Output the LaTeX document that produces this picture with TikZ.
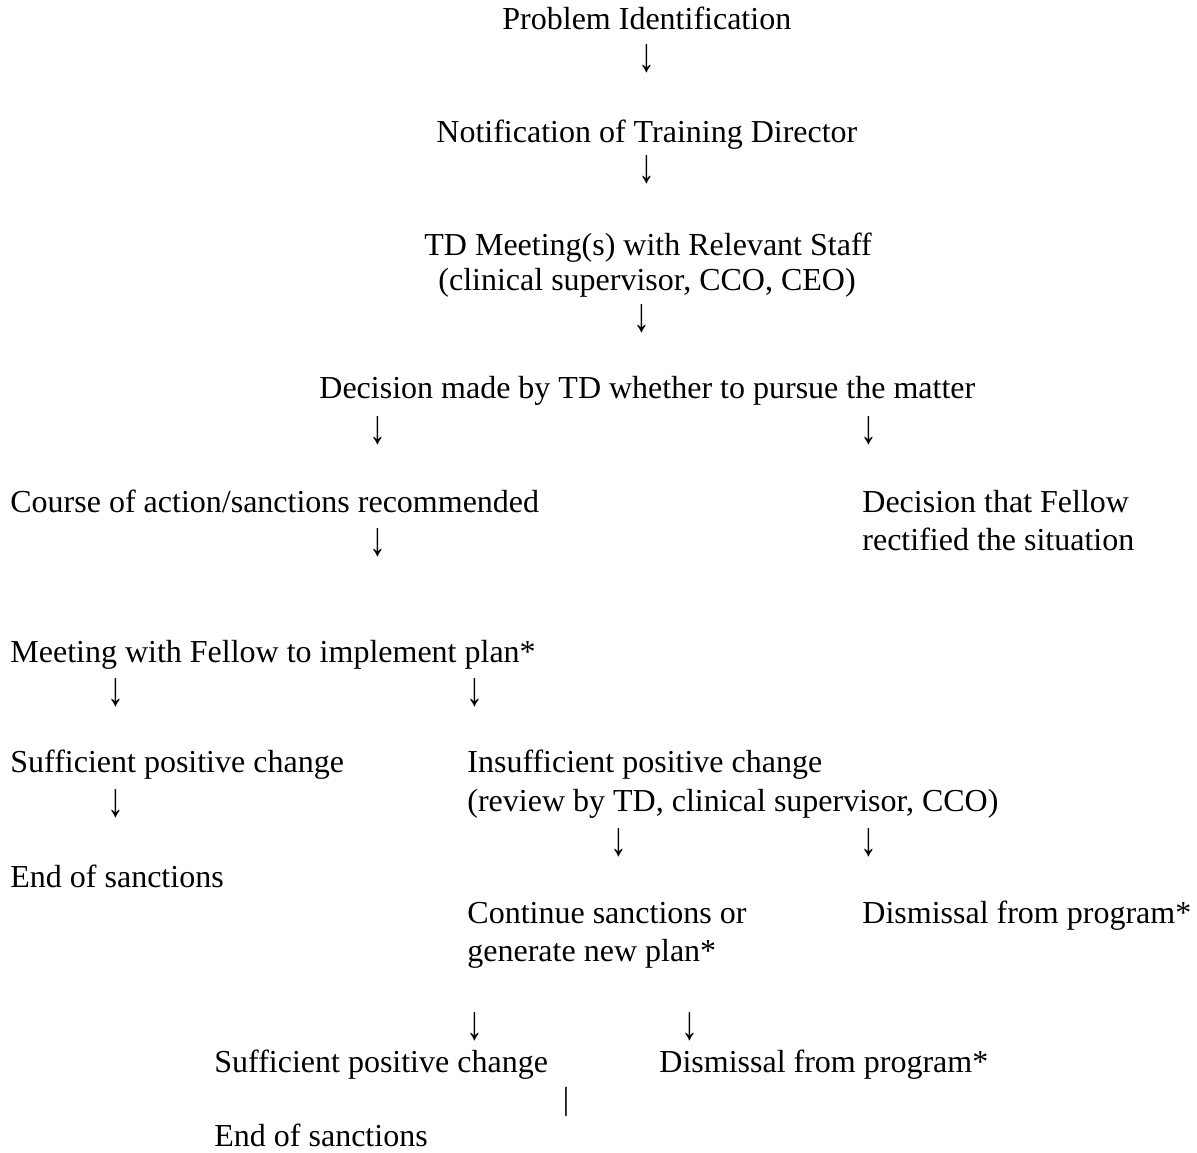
\documentclass[tikz,border=0pt]{standalone}
\usepackage{fontspec}
\setmainfont{Liberation Serif}
\usepackage{graphicx}
\usepackage{tikz}
\newcommand\flowfont{\fontsize{16}{19}\selectfont}
\newcommand\dnarrow{\scalebox{1.05}[1.5]{↓}}
\tikzset{
  ln/.style={anchor=base west,inner sep=0pt,font=\flowfont},
  dn/.style={inner sep=0pt,font=\flowfont}
}
\begin{document}
\begin{tikzpicture}[x=0.5pt,y=-0.5pt]
\useasboundingbox (0,0) rectangle (1197,1152);
% top column
\node[ln] (prob) at (502,29) {Problem Identification};
\node[ln] (notif) at (436,142) {Notification of Training Director};
\node[ln] (meet) at (424,255) {TD Meeting(s) with Relevant Staff};
\node[ln] (meetb) at (438,290) {(clinical supervisor, CCO, CEO)};
\node[ln] (decide) at (319,398) {Decision made by TD whether to pursue the matter};
% two branches
\node[ln] (course) at (10,512) {Course of action/sanctions recommended};
\node[ln] (rect) at (862,512) {Decision that Fellow};
\node[ln] (rectb) at (862,550) {rectified the situation};
\node[ln] (plan) at (10,662) {Meeting with Fellow to implement plan*};
\node[ln] (suff) at (10,772) {Sufficient positive change};
\node[ln] (insuff) at (467,772) {Insufficient positive change};
\node[ln] (insuffb) at (467,811) {(review by TD, clinical supervisor, CCO)};
\node[ln] (endl) at (10,887) {End of sanctions};
\node[ln] (cont) at (467,923) {Continue sanctions or};
\node[ln] (contb) at (467,961) {generate new plan*};
\node[ln] (dism) at (862,923) {Dismissal from program*};
% bottom
\node[ln] (suffb) at (214,1072) {Sufficient positive change};
\node[ln] (dismb) at (659,1072) {Dismissal from program*};
\node[ln] (endb) at (214,1146) {End of sanctions};
% arrows
\foreach \n/\x/\y in {a1/647/58.5,a2/647/170,a3/642/319,a4/378/430.5,a5/869/430.5,a6/378/542.5,
  a7/116/692.5,a8/475/692.5,a9/116/804,a10/619/842.5,a11/869/842.5,a12/475/1026.5,a13/690/1026.5}
  {\node[dn] (\n) at (\x,\y) {\dnarrow};}
\node[dn] (bar) at (566,1101.5) {|};
\end{tikzpicture}
\end{document}
